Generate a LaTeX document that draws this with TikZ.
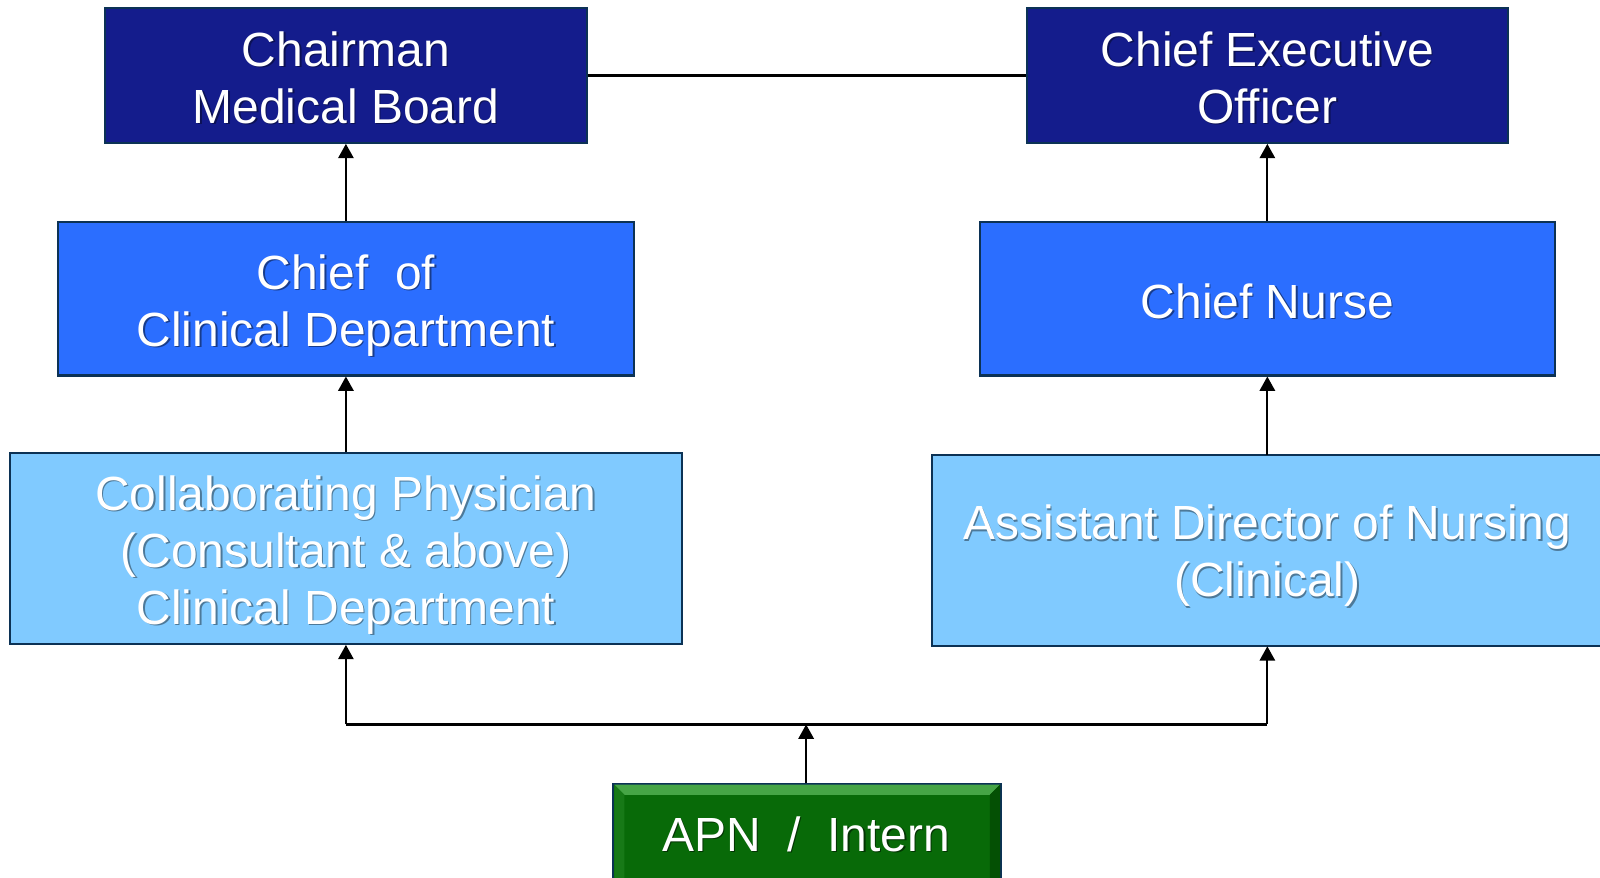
\documentclass[tikz,border=0pt]{standalone}
\usepackage{fontspec}
\setmainfont{Liberation Sans}
\usetikzlibrary{arrows.meta}
\definecolor{dkblue}{RGB}{20,28,140}
\definecolor{mdblue}{RGB}{43,110,255}
\definecolor{ltblue}{RGB}{128,202,255}
\definecolor{apngreen}{RGB}{8,106,8}
\definecolor{apnlight}{RGB}{70,165,70}
\definecolor{apndark}{RGB}{4,80,4}
\definecolor{edgecol}{RGB}{12,50,85}
\colorlet{shcol}{black}
\newcommand\shd[1]{\makebox[0pt][l]{\hspace{0.7pt}\raisebox{-0.7pt}{\color{shcol}#1}}#1}
\begin{document}
\begin{tikzpicture}[x=0.5pt,y=-0.5pt,
  box/.style={draw=edgecol, line width=1pt, inner sep=0pt},
  txt/.style={text=white, align=center, inner sep=0pt,
    font=\fontsize{23.5}{28}\selectfont\colorlet{shcol}{#1}},
  conn/.style={line width=1pt, draw=black},
  arr/.style={conn, -{Triangle[width=7.5pt,length=7pt]}}]
\useasboundingbox (0,0) rectangle (1568,859.5);
% top row
\node[box, fill=dkblue, minimum width=236pt, minimum height=66pt] (cmb) at (339,74) {};
\node[txt=dkblue!60!black] (cmbt) at (339,77) {\shd{Chairman}\\\shd{Medical Board}};
\node[box, fill=dkblue, minimum width=236pt, minimum height=66pt] (ceo) at (1242,74) {};
\node[txt=dkblue!60!black] (ceot) at (1242,77) {\shd{Chief Executive}\\\shd{Officer}};
% middle row
\node[box, fill=mdblue, minimum width=282pt, minimum height=75pt] (cof) at (339,293) {};
\node[txt=mdblue!55!black] (coft) at (339,300) {\shd{Chief\ \ of}\\\shd{Clinical Department}};
\node[box, fill=mdblue, minimum width=282pt, minimum height=75pt] (cn) at (1242,293) {};
\node[txt=mdblue!55!black] (cnt) at (1242,296) {\shd{Chief Nurse}};
% lower row
\node[box, fill=ltblue, minimum width=329pt, minimum height=93.5pt] (cp) at (339,537.5) {};
\node[txt=ltblue!60!black] (cpt) at (339,544.5) {\shd{Collaborating Physician}\\\shd{(Consultant \& above)}\\\shd{Clinical Department}};
\path[fill=ltblue, draw=edgecol, line width=1pt] (913,446) rectangle (1650,633);
\node[inner sep=0pt, minimum width=329pt, minimum height=93.5pt] (adn) at (1242,539.5) {};
\node[txt=ltblue!60!black] (adnt) at (1242,545.5) {\shd{Assistant Director of Nursing}\\\shd{(Clinical)}};
% APN box (bevelled green)
\path[fill=apngreen, draw=edgecol, line width=1pt] (601,768) rectangle (981,920);
\fill[apnlight] (602,769) -- (980,769) -- (970,779) -- (612,779) -- cycle;
\fill[apngreen!75!apnlight] (602,769) -- (612,779) -- (612,900) -- (602,900) -- cycle;
\fill[apndark] (980,769) -- (970,779) -- (970,900) -- (980,900) -- cycle;
\node[inner sep=0pt, minimum width=190pt, minimum height=50pt] (apn) at (790,818) {};
\node[txt=apngreen!50!black] (apnt) at (790,818) {\shd{APN\ \ /\ \ Intern}};
% connectors
\draw[conn] (cmb.east) -- (ceo.west);
\draw[arr] (cof.north) -- (cmb.south);
\draw[arr] (cn.north) -- (ceo.south);
\draw[arr] (cp.north) -- (cof.south);
\draw[arr] (adn.north) -- (cn.south);
\coordinate (j) at (790,710);
\coordinate (jl) at (cp.south |- j);
\coordinate (jr) at (adn.south |- j);
\draw[arr] (apn.north) -- (j);
\draw[conn] (jl) -- (jr);
\draw[arr] (jl) -- (cp.south);
\draw[arr] (jr) -- (adn.south);
\end{tikzpicture}
\end{document}
